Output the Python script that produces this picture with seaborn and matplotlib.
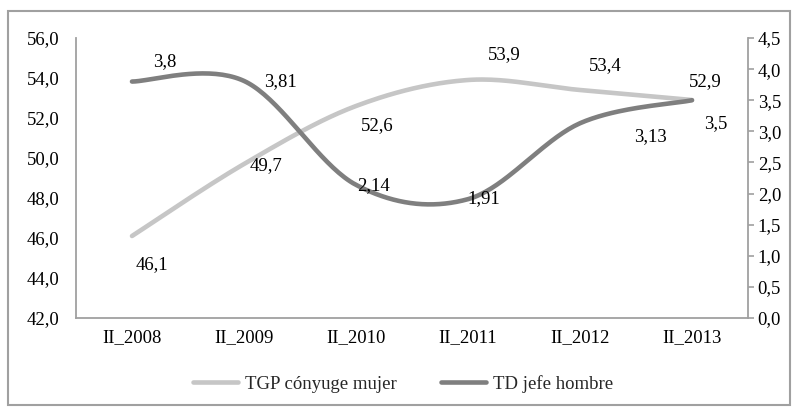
import numpy as np
import pandas as pd
import matplotlib
matplotlib.use("Agg")
import matplotlib.pyplot as plt
from matplotlib.patches import Rectangle
from matplotlib.lines import Line2D
import seaborn as sns

categories = ["II_2008", "II_2009", "II_2010", "II_2011", "II_2012", "II_2013"]
tgp_conyuge_mujer = [46.1, 49.7, 52.6, 53.9, 53.4, 52.9]
td_jefe_hombre = [3.8, 3.81, 2.14, 1.91, 3.13, 3.5]
tgp_labels = ["46,1", "49,7", "52,6", "53,9", "53,4", "52,9"]
td_labels = ["3,8", "3,81", "2,14", "1,91", "3,13", "3,5"]
left_ticks = [42, 44, 46, 48, 50, 52, 54, 56]
right_ticks = [0.0, 0.5, 1.0, 1.5, 2.0, 2.5, 3.0, 3.5, 4.0, 4.5]

sns.set_theme(style="white")
plt.rcParams["font.family"] = ["Liberation Serif", "DejaVu Serif"]

LIGHT = "#c6c6c6"
DARK = "#7f7f7f"
SPINE = "#a0a0a0"


def smooth(y, n=40):
    """Excel-like smoothed line (Catmull-Rom Bezier) through the data points."""
    y = np.asarray(y, float)
    x = np.arange(len(y), dtype=float)
    xs, ys = [], []
    for i in range(len(y) - 1):
        p0 = np.array([x[i], y[i]])
        p3 = np.array([x[i + 1], y[i + 1]])
        pm = np.array([x[i - 1], y[i - 1]]) if i > 0 else p0
        pp = np.array([x[i + 2], y[i + 2]]) if i + 2 < len(y) else p3
        c1 = p0 + (p3 - pm) / 6.0
        c2 = p3 - (pp - p0) / 6.0
        t = np.linspace(0, 1, n)[:, None]
        b = ((1 - t) ** 3) * p0 + 3 * ((1 - t) ** 2) * t * c1 + 3 * (1 - t) * t ** 2 * c2 + t ** 3 * p3
        xs.extend(b[:, 0]); ys.extend(b[:, 1])
    return pd.DataFrame({"x": xs, "y": ys})


fig = plt.figure(figsize=(7.94, 4.13), dpi=100)
W, H = 794, 413
ax = fig.add_axes([76 / W, 1 - 318 / H, (748 - 76) / W, (318 - 38) / H])
ax2 = ax.twinx()

sns.lineplot(data=smooth(tgp_conyuge_mujer), x="x", y="y", ax=ax, sort=False,
             color=LIGHT, linewidth=3.3, solid_capstyle="round")
sns.lineplot(data=smooth(td_jefe_hombre), x="x", y="y", ax=ax2, sort=False,
             color=DARK, linewidth=3.3, solid_capstyle="round")

ax.set_xlim(-0.5, len(categories) - 0.5)
ax.set_ylim(42, 56)
ax2.set_ylim(0, 4.5)
ax.set_xticks(range(len(categories)))
ax.set_xticklabels(categories)
ax.set_yticks(left_ticks)
ax.set_yticklabels([f"{v:.1f}".replace(".", ",") for v in left_ticks])
ax2.set_yticks(right_ticks)
ax2.set_yticklabels([f"{v:.1f}".replace(".", ",") for v in right_ticks])
ax.set_xlabel(""); ax.set_ylabel(""); ax2.set_ylabel("")

for a in (ax, ax2):
    for s in a.spines.values():
        s.set_visible(False)
    a.grid(False)
ax.spines["left"].set_visible(True)
ax.spines["bottom"].set_visible(True)
ax2.spines["right"].set_visible(True)
for s in ("left", "bottom"):
    ax.spines[s].set_color(SPINE); ax.spines[s].set_linewidth(1.3)
ax2.spines["right"].set_color(SPINE); ax2.spines["right"].set_linewidth(1.3)

FS = 13.5
ax.tick_params(axis="y", length=0, pad=12, labelsize=FS, colors="black")
ax.tick_params(axis="x", length=0, pad=8, labelsize=FS, colors="black")
ax2.tick_params(axis="y", length=4, width=1.2, color=SPINE, pad=3, labelsize=FS,
                labelcolor="black", direction="out")

px = 0.72  # pixel -> point
tgp_off = [(20, 29), (22, 2), (21, 20), (36, -25), (25, -24), (13, -18)]
td_off = [(33, -20), (36, 1), (18, 1), (16, -1), (70, 13), (24, 23)]
for i, (v, lab) in enumerate(zip(tgp_conyuge_mujer, tgp_labels)):
    dx, dy = tgp_off[i]
    ax.annotate(lab, (i, v), xytext=(dx * px, -dy * px), textcoords="offset points",
                ha="center", va="center", fontsize=FS, color="black")
for i, (v, lab) in enumerate(zip(td_jefe_hombre, td_labels)):
    dx, dy = td_off[i]
    ax2.annotate(lab, (i, v), xytext=(dx * px, -dy * px), textcoords="offset points",
                 ha="center", va="center", fontsize=FS, color="black")

# outer chart border
fig.patches.append(Rectangle((8 / W, 1 - 405 / H), (790 - 8) / W, (405 - 11) / H,
                             transform=fig.transFigure, fill=False,
                             edgecolor=SPINE, linewidth=1.5))

handles = [Line2D([], [], color=LIGHT, linewidth=3.3),
           Line2D([], [], color=DARK, linewidth=3.3)]
fig.legend(handles, ["TGP cónyuge mujer", "TD jefe hombre"], loc="center",
           bbox_to_anchor=(403 / W, 1 - 384 / H), ncol=2, frameon=False,
           fontsize=13.5, handlelength=2.4, handletextpad=0.35, columnspacing=2.4)

fig.savefig("out.png", dpi=100)
